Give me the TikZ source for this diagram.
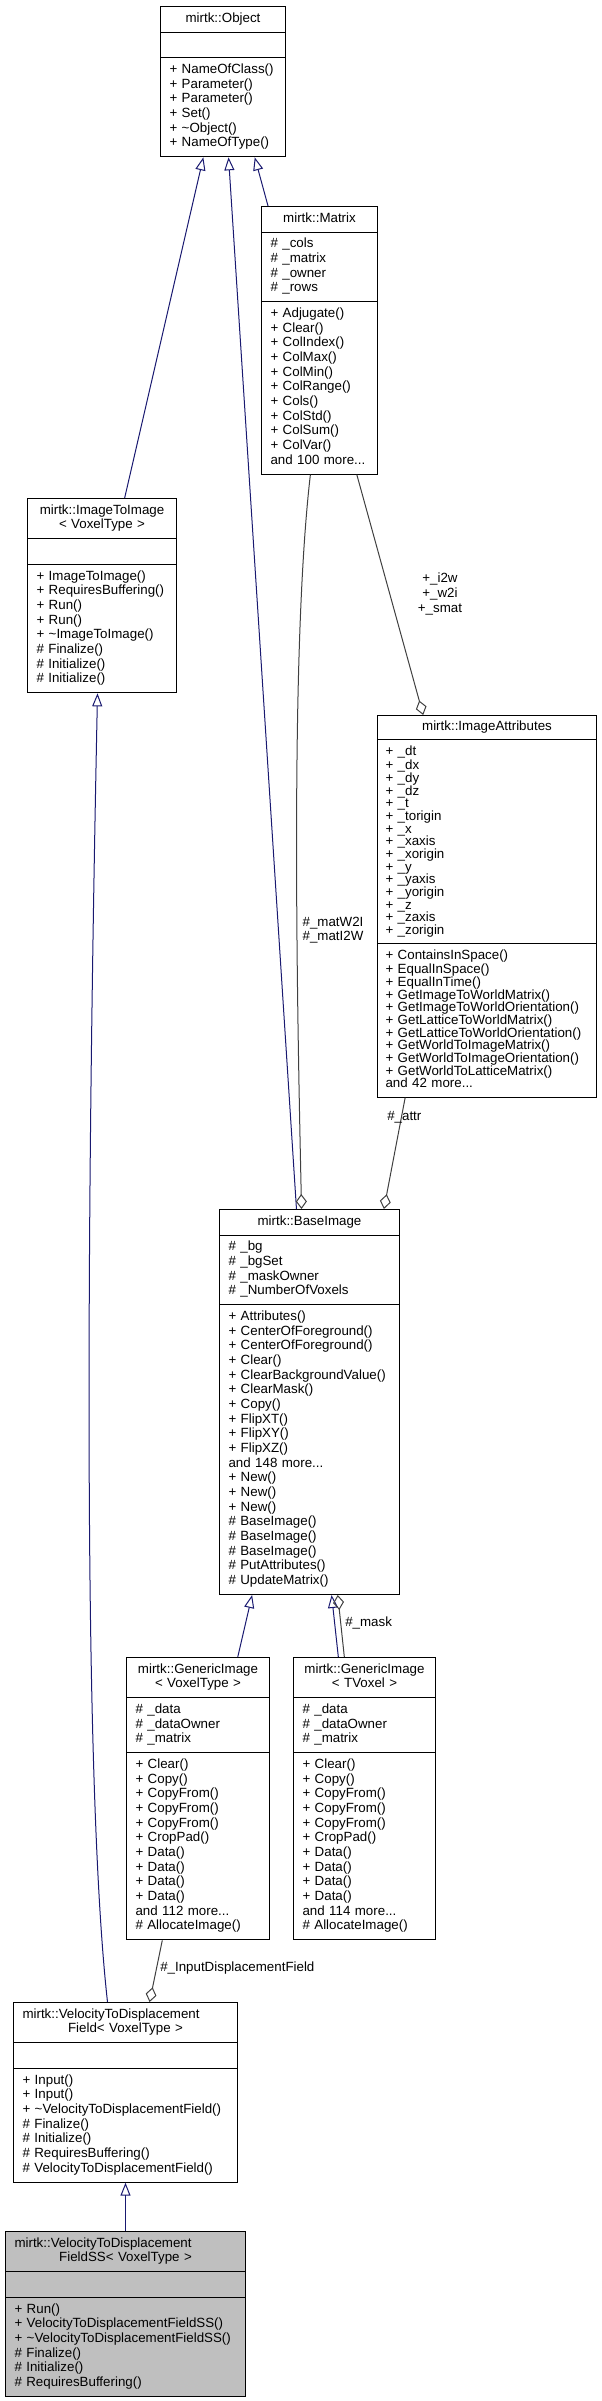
\documentclass[tikz,border=0pt]{standalone}
\usepackage{fontspec}
\setmainfont{Liberation Sans}
\usetikzlibrary{arrows.meta, calc, shapes.multipart}
\definecolor{inhblue}{HTML}{191970}
\definecolor{compgray}{HTML}{404040}
\newcommand{\clsname}[1]{\parbox[t]{\hsize}{\centering\strut #1\strut}} % class title
\tikzset{
  classbox/.style={draw=black, line width=0.75pt, rectangle split,
    rectangle split parts=3, anchor=north west, align=left,
    inner xsep=6.75pt, inner ysep=3.75pt,
    font=\fontsize{10}{11}\selectfont}, % one box per class
  inherit/.style={draw=inhblue, line width=0.75pt,
    -{Triangle[open, length=9.75pt, width=7.5pt]}}, % base class
  member/.style={draw=compgray, line width=0.75pt,
    -{Diamond[open, length=11.25pt, width=8.25pt]}}, % used as member
  rolelabel/.style={font=\fontsize{10}{10.5}\selectfont, inner sep=0pt,
    align=center},
}

\begin{document}
\begin{tikzpicture}[x=0.75pt, y=-0.75pt]
  \useasboundingbox (0,0) rectangle (601,2401);

  \node[classbox, text width=80.25pt] (object) at (160,6)
  {\clsname{mirtk::Object}
    \nodepart{two}\strut
    \nodepart{three}\strut + NameOfClass()\\ + Parameter()\\ + Parameter()\\
    + Set()\\ + \textasciitilde Object()\\ + NameOfType()\strut};

  \node[classbox, text width=73.5pt] (matrix) at (261,206)
  {\clsname{mirtk::Matrix}
    \nodepart{two}\strut \# \_cols\\ \# \_matrix\\ \# \_owner\\ \# \_rows\strut
    \nodepart{three}\strut + Adjugate()\\ + Clear()\\ + ColIndex()\\
    + ColMax()\\ + ColMin()\\ + ColRange()\\ + Cols()\\ + ColStd()\\
    + ColSum()\\ + ColVar()\\ and 100 more...\strut};

  \node[classbox, text width=98.25pt] (imgtoimg) at (27,498)
  {\clsname{mirtk::ImageToImage\\ < VoxelType >}
    \nodepart{two}\strut
    \nodepart{three}\strut + ImageToImage()\\ + RequiresBuffering()\\
    + Run()\\ + Run()\\ + \textasciitilde ImageToImage()\\ \# Finalize()\\
    \# Initialize()\\ \# Initialize()\strut};

  \node[classbox, text width=152.25pt, inner xsep=6pt,
    font=\fontsize{10}{9.5}\selectfont] (attrs) at (377,715)
  {\clsname{mirtk::ImageAttributes}
    \nodepart{two}\strut + \_dt\\ + \_dx\\ + \_dy\\ + \_dz\\ + \_t\\
    + \_torigin\\ + \_x\\ + \_xaxis\\ + \_xorigin\\ + \_y\\ + \_yaxis\\
    + \_yorigin\\ + \_z\\ + \_zaxis\\ + \_zorigin\strut
    \nodepart{three}\strut + ContainsInSpace()\\ + EqualInSpace()\\
    + EqualInTime()\\ + GetImageToWorldMatrix()\\
    + GetImageToWorldOrientation()\\ + GetLatticeToWorldMatrix()\\
    + GetLatticeToWorldOrientation()\\ + GetWorldToImageMatrix()\\
    + GetWorldToImageOrientation()\\ + GetWorldToLatticeMatrix()\\
    and 42 more...\strut};

  \node[classbox, text width=121.5pt] (baseimg) at (219,1209)
  {\clsname{mirtk::BaseImage}
    \nodepart{two}\strut \# \_bg\\ \# \_bgSet\\ \# \_maskOwner\\
    \# \_NumberOfVoxels\strut
    \nodepart{three}\strut + Attributes()\\ + CenterOfForeground()\\
    + CenterOfForeground()\\ + Clear()\\ + ClearBackgroundValue()\\
    + ClearMask()\\ + Copy()\\ + FlipXT()\\ + FlipXY()\\ + FlipXZ()\\
    and 148 more...\\ + New()\\ + New()\\ + New()\\ \# BaseImage()\\
    \# BaseImage()\\ \# BaseImage()\\ \# PutAttributes()\\
    \# UpdateMatrix()\strut};

  \node[classbox, text width=93.75pt] (genvox) at (126,1657)
  {\clsname{mirtk::GenericImage\\ < VoxelType >}
    \nodepart{two}\strut \# \_data\\ \# \_dataOwner\\ \# \_matrix\strut
    \nodepart{three}\strut + Clear()\\ + Copy()\\ + CopyFrom()\\
    + CopyFrom()\\ + CopyFrom()\\ + CropPad()\\ + Data()\\ + Data()\\
    + Data()\\ + Data()\\ and 112 more...\\ \# AllocateImage()\strut};

  \node[classbox, text width=93pt] (gentv) at (293,1657)
  {\clsname{mirtk::GenericImage\\ < TVoxel >}
    \nodepart{two}\strut \# \_data\\ \# \_dataOwner\\ \# \_matrix\strut
    \nodepart{three}\strut + Clear()\\ + Copy()\\ + CopyFrom()\\
    + CopyFrom()\\ + CopyFrom()\\ + CropPad()\\ + Data()\\ + Data()\\
    + Data()\\ + Data()\\ and 114 more...\\ \# AllocateImage()\strut};

  \node[classbox, text width=154.5pt] (veltodisp) at (13,2002)
  {\clsname{mirtk::VelocityToDisplacement\hfill\null\\ Field< VoxelType >}
    \nodepart{two}\strut
    \nodepart{three}\strut + Input()\\ + Input()\\
    + \textasciitilde VelocityToDisplacementField()\\ \# Finalize()\\
    \# Initialize()\\ \# RequiresBuffering()\\
    \# VelocityToDisplacementField()\strut};

  \node[classbox, text width=166.5pt, fill=black!25] (veltodispss) at (5,2231)
  {\clsname{mirtk::VelocityToDisplacement\hfill\null\\ FieldSS< VoxelType >}
    \nodepart{two}\strut
    \nodepart{three}\strut + Run()\\ + VelocityToDisplacementFieldSS()\\
    + \textasciitilde VelocityToDisplacementFieldSS()\\ \# Finalize()\\
    \# Initialize()\\ \# RequiresBuffering()\strut};

  % inheritance
  \draw[inherit] ($(imgtoimg.north west)!0.651!(imgtoimg.north east)$)
    -- ($(object.south west)!0.344!(object.south east)$);
  \draw[inherit] ($(baseimg.north west)!0.428!(baseimg.north east)$)
    -- ($(object.south west)!0.544!(object.south east)$);
  \draw[inherit] ($(matrix.north west)!0.06!(matrix.north east)$)
    -- ($(object.south west)!0.752!(object.south east)$);
  \draw[inherit] ($(genvox.north west)!0.776!(genvox.north east)$)
    -- ($(baseimg.south west)!0.183!(baseimg.south east)$);
  \draw[inherit] ($(gentv.north west)!0.317!(gentv.north east)$)
    -- ($(baseimg.south west)!0.622!(baseimg.south east)$);
  \draw[inherit] ($(veltodisp.north west)!0.42!(veltodisp.north east)$)
    .. controls (85,1800) and (85,1300) ..
    ($(imgtoimg.south west)!0.47!(imgtoimg.south east)$);
  \draw[inherit] (veltodispss.north) -- (veltodisp.south);

  % members
  \draw[member] ($(matrix.south west)!0.422!(matrix.south east)$)
    .. controls (290,650) and (297,1000) ..
    ($(baseimg.north west)!0.456!(baseimg.north east)$);
  \draw[member] ($(matrix.south west)!0.819!(matrix.south east)$)
    -- ($(attrs.north west)!0.21!(attrs.north east)$);
  \draw[member] ($(attrs.south west)!0.128!(attrs.south east)$)
    -- ($(baseimg.north west)!0.911!(baseimg.north east)$);
  \draw[member] ($(gentv.north west)!0.359!(gentv.north east)$)
    -- ($(baseimg.south west)!0.656!(baseimg.south east)$);
  \draw[member] ($(genvox.south west)!0.252!(genvox.south east)$)
    -- ($(veltodisp.north west)!0.607!(veltodisp.north east)$);

  \node[rolelabel] (lblmat) at (333,930) {\#\_matW2I\\ \#\_matI2W};
  \node[rolelabel, font=\fontsize{10}{11.25}\selectfont] (lblsmat) at (440,594)
    {+\_i2w\\ +\_w2i\\ +\_smat};
  \node[rolelabel, anchor=west] (lblattr) at (387,1117) {\#\_attr};
  \node[rolelabel, anchor=west] (lblmask) at (345,1623) {\#\_mask};
  \node[rolelabel, anchor=west] (lblinput) at (160,1968)
    {\#\_InputDisplacementField};
\end{tikzpicture}
\end{document}
